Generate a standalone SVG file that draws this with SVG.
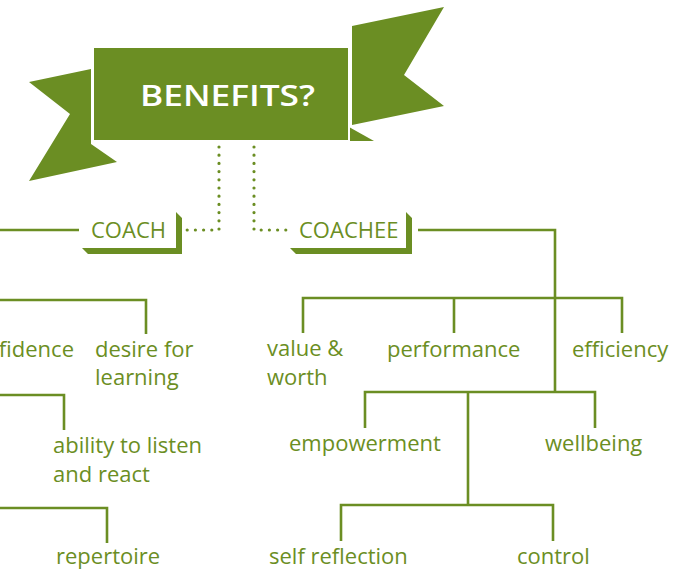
<svg xmlns="http://www.w3.org/2000/svg" width="695" height="571" viewBox="0 0 695 571">
<style>
.g{fill:#6b8e23}
.t{font-family:"Open Sans","Liberation Sans",sans-serif;font-size:22px;fill:#6b8e23}
.ln{fill:none;stroke:#6b8e23;stroke-width:2.6;stroke-linejoin:miter}
.dot{fill:none;stroke:#6b8e23;stroke-width:3.2;stroke-linecap:round;stroke-dasharray:0 8.2}
</style>
<rect width="695" height="571" fill="#fff"/>
<g id="banner">
<polygon class="g" points="29,82 91,69 91,144 117,162 29,181 70,114"/>
<polygon class="g" points="352,26 444,7 404,75 444,106 352,125"/>
<polygon class="g" points="349,127 374,141 349,141"/>
<rect class="g" x="93" y="47" width="256" height="94" stroke="#fff" stroke-width="2"/>
<text x="140" y="106" textLength="175" lengthAdjust="spacingAndGlyphs" style="font-family:'Open Sans',Lato,sans-serif;font-weight:600;font-size:28px;fill:#fff">BENEFITS?</text>
</g>
<g id="connectors">
<path class="dot" d="M219,147 V230 H186"/>
<path class="dot" d="M254,147 V230 H288"/>
<path class="ln" d="M0,230 H79"/>
<path class="ln" d="M418,230 H555 V392"/>
<path class="ln" d="M303,333 V298 H622 V333 M454,298 V333"/>
<path class="ln" d="M365,428 V392 H595 V428 M468,392 V505"/>
<path class="ln" d="M341,541 V505 H553 V541"/>
<path class="ln" d="M0,300 H146 V334"/>
<path class="ln" d="M0,395 H64 V430"/>
<path class="ln" d="M0,508 H107 V543"/>
</g>
<g id="coach">
<polygon class="g" points="176,212 182,218 182,254 88,254 82,248 176,248"/>
<text class="t" x="91" y="238">COACH</text>
</g>
<g id="coachee">
<polygon class="g" points="406,212 412,218 412,254 296,254 290,248 406,248"/>
<text class="t" x="299" y="238">COACHEE</text>
</g>
<g id="confidence"><text class="t" x="74" y="357" text-anchor="end">fidence</text></g>
<g id="desire"><text class="t" x="95" y="357">desire for<tspan x="95" y="385">learning</tspan></text></g>
<g id="ability"><text class="t" x="53" y="453">ability to listen<tspan x="53" y="482">and react</tspan></text></g>
<g id="repertoire"><text class="t" x="56" y="564">repertoire</text></g>
<g id="value"><text class="t" x="267" y="356">value &amp;<tspan x="267" y="385">worth</tspan></text></g>
<g id="performance"><text class="t" x="387" y="357">performance</text></g>
<g id="efficiency"><text class="t" x="572" y="357">efficiency</text></g>
<g id="empowerment"><text class="t" x="289" y="451">empowerment</text></g>
<g id="wellbeing"><text class="t" x="545" y="451">wellbeing</text></g>
<g id="selfreflection"><text class="t" x="269" y="564">self reflection</text></g>
<g id="control"><text class="t" x="517" y="564">control</text></g>
</svg>
